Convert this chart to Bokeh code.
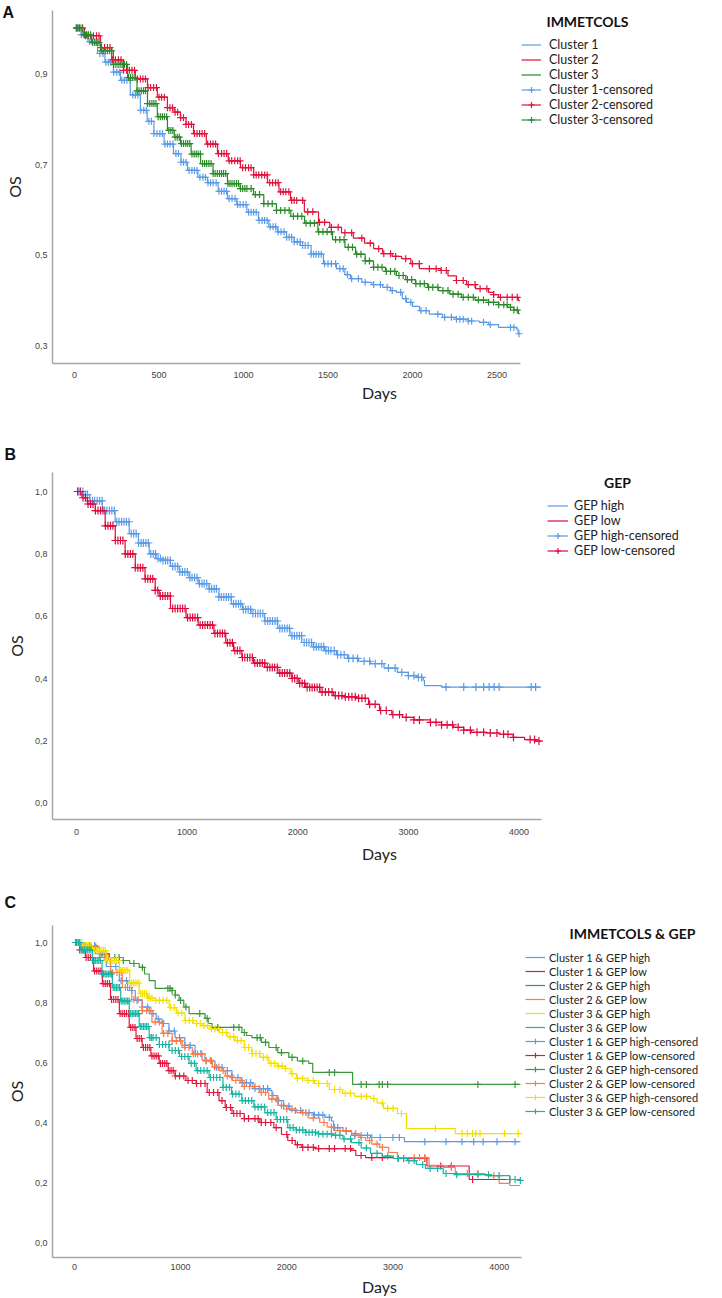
import numpy as np
from bokeh.plotting import figure
from bokeh.models import Legend, LegendItem, Label, FixedTicker, Title
from bokeh.layouts import column
from bokeh.embed import file_html
from bokeh.resources import INLINE

# ================= Panel A : IMMETCOLS =================
a_names = ["Cluster 1", "Cluster 2", "Cluster 3"]
a_colors = ["#5a9ae6", "#e0143c", "#2a8a2a"]
a_c1_t = [0, 40, 80, 136, 180, 230, 272, 330, 390, 430, 470, 530, 586, 630, 669, 730, 787, 850, 905, 960,
          1020, 1089, 1150, 1200, 1254, 1300, 1337, 1400, 1473, 1550, 1600, 1633, 1700, 1760, 1823, 1870,
          1905, 1940, 1964, 2000, 2041, 2100, 2178, 2260, 2330, 2396, 2450, 2509, 2615, 2625, 2635]
a_c1_s = [1.0, 0.985, 0.97, 0.944, 0.925, 0.903, 0.885, 0.853, 0.819, 0.795, 0.768, 0.745, 0.724, 0.705,
          0.687, 0.672, 0.66, 0.641, 0.625, 0.612, 0.595, 0.577, 0.563, 0.552, 0.54, 0.53, 0.522, 0.503,
          0.482, 0.471, 0.458, 0.449, 0.441, 0.436, 0.43, 0.423, 0.419, 0.405, 0.397, 0.388, 0.379, 0.371,
          0.364, 0.36, 0.356, 0.353, 0.348, 0.342, 0.338, 0.328, 0.328]
a_c2_t = [0, 60, 154, 220, 290, 360, 432, 490, 550, 590, 627, 660, 704, 780, 846, 910, 982, 1060, 1142,
          1210, 1278, 1360, 1444, 1510, 1580, 1650, 1716, 1770, 1823, 1880, 1935, 1990, 2041, 2166, 2210,
          2260, 2320, 2373, 2450, 2480, 2509, 2627, 2635]
a_c2_s = [1.0, 0.983, 0.957, 0.93, 0.907, 0.888, 0.869, 0.848, 0.825, 0.815, 0.803, 0.788, 0.768, 0.745,
          0.724, 0.708, 0.693, 0.677, 0.66, 0.64, 0.621, 0.596, 0.573, 0.562, 0.55, 0.538, 0.527, 0.515,
          0.504, 0.498, 0.493, 0.482, 0.471, 0.467, 0.455, 0.445, 0.436, 0.427, 0.419, 0.414, 0.408,
          0.401, 0.401]
a_c3_t = [0, 50, 100, 154, 230, 314, 370, 432, 490, 550, 590, 627, 690, 746, 820, 905, 980, 1059, 1120,
          1195, 1280, 1361, 1440, 1527, 1600, 1663, 1720, 1769, 1840, 1905, 1960, 2018, 2090, 2154, 2220,
          2290, 2370, 2450, 2510, 2562, 2600, 2627, 2635]
a_c3_s = [1.0, 0.985, 0.968, 0.95, 0.92, 0.891, 0.862, 0.834, 0.805, 0.775, 0.76, 0.746, 0.723, 0.702,
          0.68, 0.658, 0.647, 0.634, 0.614, 0.599, 0.586, 0.571, 0.552, 0.535, 0.518, 0.503, 0.488, 0.474,
          0.465, 0.456, 0.447, 0.438, 0.43, 0.423, 0.415, 0.408, 0.402, 0.397, 0.392, 0.386, 0.38, 0.372,
          0.372]
a_c1_cens = [12, 25, 40, 55, 72, 90, 105, 120, 135, 150, 168, 185, 200, 215, 232, 250, 265, 280, 295, 310,
             328, 345, 360, 375, 392, 410, 425, 440, 455, 470, 488, 505, 520, 535, 550, 565, 582, 600,
             615, 630, 645, 660, 678, 695, 710, 725, 742, 760, 775, 790, 805, 820, 838, 855, 870, 885,
             900, 915, 932, 950, 965, 980, 998, 1015, 1030, 1045, 1060, 1075, 1092, 1110, 1125, 1140,
             1158, 1175, 1190, 1205, 1222, 1240, 1255, 1270, 1285, 1300, 1318, 1335, 1350, 1365, 1382,
             1400, 1415, 1430, 1445, 1460, 1480, 1500, 1520, 1545, 1570, 1590, 1615, 1640, 1680, 1720,
             1770, 1810, 1850, 1880, 1930, 1960, 1990, 2050, 2080, 2150, 2190, 2230, 2260, 2280, 2300,
             2330, 2350, 2420, 2460, 2580, 2600, 2630]
a_c2_cens = [15, 30, 48, 65, 80, 95, 112, 130, 145, 160, 178, 195, 210, 225, 242, 260, 275, 290, 308, 325,
             340, 355, 372, 390, 405, 420, 435, 450, 468, 485, 500, 515, 532, 550, 565, 580, 595, 610,
             628, 645, 660, 675, 692, 710, 725, 740, 755, 770, 788, 805, 820, 835, 852, 870, 885, 900,
             915, 930, 948, 965, 980, 995, 1012, 1030, 1045, 1060, 1075, 1090, 1108, 1125, 1140, 1155,
             1172, 1190, 1205, 1220, 1235, 1250, 1268, 1285, 1300, 1315, 1350, 1380, 1410, 1450, 1480,
             1520, 1560, 1600, 1640, 1700, 1750, 1800, 1830, 1870, 1900, 1960, 2000, 2040, 2100, 2140,
             2170, 2200, 2260, 2300, 2330, 2370, 2400, 2440, 2480, 2520, 2560, 2590, 2620]
a_c3_cens = [10, 20, 32, 45, 58, 70, 82, 95, 108, 120, 132, 145, 158, 170, 182, 195, 208, 220, 232, 245,
             258, 270, 282, 295, 308, 320, 332, 345, 358, 370, 382, 395, 408, 420, 432, 445, 458, 470,
             482, 495, 508, 520, 532, 545, 558, 570, 582, 595, 608, 620, 632, 645, 658, 670, 682, 695,
             708, 720, 732, 745, 758, 770, 782, 795, 808, 820, 832, 845, 858, 870, 882, 895, 908, 920,
             932, 945, 958, 970, 982, 995, 1008, 1020, 1045, 1070, 1095, 1120, 1145, 1170, 1195, 1220,
             1245, 1270, 1295, 1320, 1345, 1370, 1395, 1420, 1445, 1470, 1495, 1520, 1545, 1570, 1595,
             1620, 1645, 1670, 1695, 1720, 1745, 1770, 1795, 1820, 1845, 1870, 1895, 1920, 1945, 1970,
             1995, 2020, 2045, 2070, 2095, 2120, 2150, 2180, 2210, 2240, 2270, 2300, 2330, 2360, 2390,
             2420, 2450, 2480, 2510, 2540, 2560, 2580, 2600, 2620]
a_xticks = [0, 500, 1000, 1500, 2000, 2500]
a_yticks = [0.3, 0.5, 0.7, 0.9]
a_ylabels = ["0,3", "0,5", "0,7", "0,9"]

# ================= Panel B : GEP =================
b_names = ["GEP high", "GEP low"]
b_colors = ["#5a9ae6", "#dc0a3c"]
b_hi_t = [0, 60, 120, 234, 350, 477, 560, 658, 720, 775, 850, 930, 1018, 1100, 1200, 1288, 1400, 1500,
          1577, 1700, 1820, 1930, 2036, 2140, 2243, 2350, 2450, 2550, 2658, 2780, 2900, 3000, 3072, 3135,
          3145, 3300, 4200]
b_hi_s = [1.0, 0.99, 0.97, 0.939, 0.903, 0.865, 0.835, 0.80, 0.785, 0.779, 0.76, 0.742, 0.724, 0.705,
          0.688, 0.662, 0.64, 0.622, 0.609, 0.585, 0.561, 0.538, 0.516, 0.502, 0.49, 0.477, 0.465, 0.456,
          0.448, 0.434, 0.42, 0.41, 0.404, 0.395, 0.378, 0.373, 0.373]
b_lo_t = [0, 50, 100, 171, 260, 351, 440, 532, 620, 712, 748, 850, 991, 1100, 1243, 1350, 1420, 1495,
          1600, 1703, 1820, 1946, 2010, 2072, 2200, 2324, 2420, 2532, 2640, 2739, 2850, 2946, 3050, 3198,
          3300, 3405, 3500, 3568, 3700, 3820, 3946, 4050, 4150, 4200]
b_lo_s = [1.0, 0.98, 0.96, 0.939, 0.89, 0.843, 0.80, 0.756, 0.72, 0.683, 0.665, 0.625, 0.596, 0.572,
          0.545, 0.515, 0.49, 0.468, 0.45, 0.436, 0.418, 0.401, 0.385, 0.372, 0.357, 0.346, 0.342, 0.337,
          0.318, 0.298, 0.285, 0.276, 0.268, 0.26, 0.252, 0.244, 0.235, 0.228, 0.226, 0.222, 0.212, 0.205,
          0.2, 0.2]
b_hi_cens = [15, 35, 58, 80, 100, 122, 145, 165, 188, 210, 232, 255, 275, 298, 320, 342, 365, 385, 408,
             430, 452, 475, 495, 518, 540, 562, 585, 605, 628, 650, 672, 695, 715, 738, 760, 782, 805,
             825, 848, 870, 892, 915, 935, 958, 980, 1002, 1025, 1045, 1068, 1090, 1112, 1135, 1155,
             1178, 1200, 1222, 1245, 1265, 1288, 1310, 1332, 1355, 1375, 1398, 1420, 1442, 1465, 1485,
             1508, 1530, 1552, 1575, 1595, 1618, 1640, 1662, 1685, 1705, 1728, 1750, 1772, 1795, 1815,
             1838, 1860, 1882, 1905, 1925, 1948, 1970, 1992, 2015, 2035, 2058, 2080, 2102, 2125, 2145,
             2168, 2190, 2212, 2235, 2255, 2278, 2300, 2330, 2360, 2390, 2420, 2460, 2500, 2540, 2600,
             2650, 2700, 2760, 2820, 2880, 2940, 3000, 3050, 3090, 3120, 3340, 3500, 3610, 3680, 3730,
             3775, 3820, 4110, 4150]
b_lo_cens = [12, 35, 60, 82, 105, 128, 150, 172, 195, 218, 240, 262, 285, 308, 330, 352, 375, 398, 420,
             442, 465, 488, 510, 532, 555, 578, 600, 622, 645, 668, 690, 712, 735, 758, 780, 802, 825,
             848, 870, 892, 915, 938, 960, 982, 1005, 1028, 1050, 1072, 1095, 1118, 1140, 1162, 1185,
             1208, 1230, 1252, 1275, 1298, 1320, 1342, 1365, 1388, 1410, 1432, 1455, 1478, 1500, 1522,
             1545, 1568, 1590, 1612, 1635, 1658, 1680, 1702, 1725, 1748, 1770, 1792, 1815, 1838, 1860,
             1882, 1905, 1928, 1950, 1972, 1995, 2018, 2040, 2062, 2085, 2108, 2130, 2152, 2175, 2198,
             2220, 2250, 2280, 2310, 2340, 2370, 2400, 2430, 2460, 2490, 2520, 2550, 2580, 2610, 2650,
             2700, 2750, 2800, 2860, 2920, 2980, 3050, 3100, 3200, 3250, 3300, 3350, 3400, 3450, 3500,
             3560, 3620, 3680, 3740, 3800, 3860, 3900, 3950, 4100, 4140, 4180]
b_xticks = [0, 1000, 2000, 3000, 4000]
bc_yticks = [0.0, 0.2, 0.4, 0.6, 0.8, 1.0]
bc_ylabels = ["0,0", "0,2", "0,4", "0,6", "0,8", "1,0"]

# ================= Panel C : IMMETCOLS & GEP =================
c_names = ["Cluster 1 & GEP high", "Cluster 1 & GEP low", "Cluster 2 & GEP high",
           "Cluster 2 & GEP low", "Cluster 3 & GEP high", "Cluster 3 & GEP low"]
c_colors = ["#5b9be8", "#e3173e", "#3c983c", "#fb7c4a", "#f2df00", "#17b5a3"]
c_1h_t = [0, 80, 197, 300, 423, 500, 573, 640, 704, 770, 826, 890, 948, 1040, 1136, 1230, 1324, 1399,
          1484, 1577, 1681, 1831, 1860, 1915, 1970, 2028, 2141, 2250, 2357, 2420, 2441, 2530, 2610, 2789,
          3108, 4200]
c_1h_s = [1.0, 0.99, 0.963, 0.92, 0.873, 0.84, 0.807, 0.785, 0.763, 0.745, 0.73, 0.705, 0.683, 0.657,
          0.63, 0.605, 0.583, 0.573, 0.55, 0.533, 0.513, 0.507, 0.49, 0.473, 0.455, 0.44, 0.433, 0.425,
          0.417, 0.405, 0.383, 0.37, 0.357, 0.35, 0.336, 0.336]
c_1l_t = [0, 50, 103, 180, 263, 340, 423, 516, 580, 638, 720, 798, 883, 948, 1050, 1146, 1250, 1362,
          1420, 1484, 1600, 1746, 1878, 1950, 2009, 2080, 2141, 2263, 2610, 2650, 2742, 3005, 3320, 3718,
          4200]
c_1l_s = [1.0, 0.975, 0.95, 0.905, 0.863, 0.81, 0.763, 0.717, 0.68, 0.65, 0.622, 0.597, 0.573, 0.555,
          0.54, 0.53, 0.50, 0.473, 0.45, 0.43, 0.413, 0.40, 0.383, 0.36, 0.34, 0.326, 0.317, 0.313, 0.307,
          0.29, 0.283, 0.28, 0.255, 0.21, 0.21]
c_2h_t = [0, 100, 235, 330, 423, 520, 610, 660, 704, 760, 920, 950, 986, 1030, 1080, 1230, 1260, 1296,
          1577, 1620, 1671, 1760, 1831, 1915, 2019, 2100, 2207, 2244, 2620, 4200]
c_2h_s = [1.0, 0.985, 0.963, 0.95, 0.94, 0.93, 0.917, 0.895, 0.873, 0.847, 0.84, 0.825, 0.807, 0.785,
          0.763, 0.747, 0.73, 0.717, 0.70, 0.69, 0.683, 0.667, 0.65, 0.633, 0.617, 0.605, 0.597, 0.567,
          0.527, 0.527]
c_2l_t = [0, 80, 235, 340, 451, 540, 638, 730, 826, 920, 1014, 1110, 1202, 1300, 1362, 1420, 1484, 1600,
          1746, 1830, 1915, 2000, 2094, 2200, 2310, 2380, 2441, 2610, 2680, 2742, 2800, 2873, 2960, 3042,
          3340, 3474, 3587, 3869, 4000, 4100, 4200]
c_2l_s = [1.0, 0.985, 0.95, 0.90, 0.85, 0.81, 0.773, 0.735, 0.697, 0.672, 0.65, 0.628, 0.607, 0.585,
          0.573, 0.555, 0.54, 0.52, 0.50, 0.478, 0.457, 0.445, 0.433, 0.415, 0.40, 0.385, 0.373, 0.363,
          0.35, 0.34, 0.328, 0.317, 0.30, 0.283, 0.257, 0.25, 0.23, 0.223, 0.197, 0.19, 0.19]
c_3h_t = [0, 80, 169, 300, 423, 520, 610, 690, 760, 892, 960, 1042, 1120, 1202, 1280, 1362, 1440, 1512,
          1600, 1671, 1746, 1831, 1910, 1981, 2040, 2094, 2180, 2263, 2400, 2526, 2640, 2789, 2850, 2911,
          3042, 3127, 3587, 4200]
c_3h_s = [1.0, 0.99, 0.973, 0.94, 0.907, 0.865, 0.83, 0.815, 0.807, 0.783, 0.765, 0.74, 0.73, 0.723,
          0.712, 0.70, 0.686, 0.673, 0.65, 0.63, 0.617, 0.597, 0.588, 0.58, 0.563, 0.547, 0.54, 0.53,
          0.51, 0.497, 0.487, 0.48, 0.465, 0.447, 0.43, 0.38, 0.363, 0.363]
c_3l_t = [0, 60, 169, 260, 357, 436, 516, 610, 704, 800, 892, 990, 1080, 1146, 1268, 1399, 1480, 1577,
          1690, 1793, 1900, 2009, 2090, 2178, 2300, 2441, 2530, 2610, 2700, 2789, 2900, 3005, 3136, 3220,
          3305, 3474, 3600, 3906, 4100, 4180, 4200]
c_3l_s = [1.0, 0.975, 0.94, 0.895, 0.85, 0.805, 0.763, 0.72, 0.683, 0.66, 0.64, 0.62, 0.597, 0.573,
          0.55, 0.517, 0.495, 0.473, 0.452, 0.433, 0.41, 0.383, 0.375, 0.367, 0.362, 0.357, 0.345, 0.333,
          0.315, 0.297, 0.288, 0.28, 0.273, 0.26, 0.247, 0.23, 0.226, 0.223, 0.21, 0.207, 0.207]
c_1h_cens = [40, 90, 140, 190, 240, 290, 340, 390, 440, 490, 540, 590, 640, 690, 740, 790, 840, 890, 940,
             990, 1040, 1090, 1140, 1190, 1240, 1290, 1340, 1390, 1440, 1490, 1540, 1580, 1620, 1660,
             1700, 1740, 1780, 1820, 1870, 1920, 1970, 2020, 2080, 2130, 2180, 2210, 2260, 2300, 2340,
             2400, 2450, 2480, 2560, 2640, 2700, 2760, 2800, 2880, 3000, 3060, 3300, 3500, 3650, 3760,
             3850, 3980, 4150]
c_1l_cens = [15, 30, 50, 70, 90, 110, 130, 150, 170, 190, 210, 230, 250, 270, 290, 310, 330, 350, 370,
             390, 410, 430, 450, 470, 490, 510, 530, 550, 570, 590, 610, 630, 650, 670, 690, 710, 730,
             750, 770, 790, 810, 830, 850, 870, 890, 910, 930, 950, 990, 1030, 1070, 1110, 1150, 1190,
             1230, 1270, 1310, 1350, 1390, 1430, 1470, 1500, 1530, 1560, 1600, 1640, 1700, 1730, 1760,
             1800, 1850, 1900, 2000, 2050, 2100, 2150, 2200, 2250, 2300, 2400, 2450, 2550, 2600, 2700,
             2800, 2900, 3050, 3100, 3300, 3450, 3550, 3750, 4100]
c_2h_cens = [150, 200, 260, 300, 380, 420, 460, 560, 640, 880, 900, 920, 950, 1000, 1050, 1180, 1250,
             1350, 1500, 1550, 1600, 1720, 1750, 1800, 1900, 1950, 2050, 2150, 2400, 2450, 2700, 2750,
             2870, 2900, 2950, 3800, 4150]
c_2l_cens = [40, 80, 120, 160, 200, 240, 280, 320, 360, 400, 440, 480, 520, 560, 600, 640, 680, 720, 760,
             800, 840, 880, 920, 960, 1000, 1040, 1080, 1120, 1160, 1200, 1240, 1280, 1320, 1360, 1400,
             1440, 1480, 1520, 1560, 1600, 1650, 1700, 1760, 1800, 1860, 1900, 1950, 2000, 2050, 2150,
             2250, 2350, 2420, 2500, 2560, 2650, 2700, 2780, 2850, 2900, 3200, 3250, 3300, 3550, 3700,
             3800, 3950]
c_3h_cens = [15, 30, 48, 65, 82, 100, 118, 135, 152, 170, 188, 205, 222, 240, 258, 275, 292, 310, 328,
             345, 362, 380, 398, 415, 432, 450, 468, 485, 502, 520, 538, 555, 572, 590, 608, 625, 642,
             660, 678, 695, 712, 730, 765, 800, 835, 870, 905, 940, 975, 1010, 1045, 1080, 1115, 1150,
             1185, 1220, 1255, 1290, 1325, 1360, 1395, 1430, 1465, 1500, 1535, 1570, 1605, 1640, 1675,
             1710, 1745, 1780, 1815, 1850, 1885, 1920, 1955, 1990, 2050, 2100, 2150, 2200, 2250, 2300,
             2380, 2450, 2500, 2550, 2600, 2700, 2750, 2820, 2900, 2950, 3000, 3080, 3400, 3650, 3700,
             3750, 3780, 3820, 4050, 4180]
c_3l_cens = [10, 20, 35, 50, 65, 80, 95, 110, 125, 140, 155, 170, 185, 200, 215, 230, 245, 260, 275, 290,
             305, 320, 335, 350, 365, 380, 395, 410, 425, 440, 455, 470, 485, 500, 515, 530, 545, 560,
             575, 590, 605, 620, 635, 650, 665, 680, 695, 710, 725, 740, 770, 800, 830, 860, 890, 920,
             950, 980, 1010, 1040, 1070, 1100, 1130, 1160, 1190, 1220, 1250, 1280, 1310, 1340, 1370,
             1400, 1430, 1460, 1490, 1520, 1550, 1580, 1610, 1640, 1670, 1700, 1730, 1760, 1790, 1820,
             1850, 1880, 1910, 1940, 1970, 2000, 2030, 2060, 2090, 2120, 2150, 2180, 2210, 2240, 2270,
             2300, 2340, 2380, 2420, 2460, 2500, 2540, 2600, 2680, 2750, 2850, 2950, 3050, 3100, 3150,
             3200, 3280, 3350, 3420, 3500, 3600, 3800, 3900, 4000, 4100, 4150, 4200]
c_xticks = [0, 1000, 2000, 3000, 4000]

W = 706
AX_COL = "#a6a6a6"


def make_fig(h, left, top, bottom, x0, px_per_day, x_end, yr, xticks, yticks, ylabels,
             tick_standoff, xlab_standoff, ylab_standoff):
    # frame spans from `left` to the right edge; the x axis line is bounded to the data region
    frame_w = W - left
    xr = (x0, x0 + frame_w / px_per_day)
    p = figure(width=W, height=h, x_range=xr, y_range=yr, output_backend="svg",
               toolbar_location=None, min_border_left=left, min_border_top=top,
               min_border_right=0, min_border_bottom=bottom,
               x_axis_label="Days", y_axis_label="OS")
    p.outline_line_color = None
    p.grid.visible = False
    for ax in (p.xaxis[0], p.yaxis[0]):
        ax.axis_line_color = AX_COL
        ax.axis_line_width = 1.5
        ax.major_tick_line_color = None
        ax.minor_tick_line_color = None
        ax.major_tick_out = 0
        ax.major_tick_in = 0
        ax.minor_tick_out = 0
        ax.minor_tick_in = 0
        ax.major_label_text_font = "Liberation Sans"
        ax.major_label_text_font_size = "9px"
        ax.major_label_text_color = "#444444"
        ax.axis_label_text_font = "Lato"
        ax.axis_label_text_font_size = "16px"
        ax.axis_label_text_font_style = "normal"
        ax.axis_label_text_color = "#222222"
    p.xaxis.bounds = (x0, x_end)
    p.xaxis.ticker = FixedTicker(ticks=xticks)
    p.yaxis.ticker = FixedTicker(ticks=yticks)
    p.yaxis.major_label_overrides = {v: s for v, s in zip(yticks, ylabels)}
    p.xaxis.major_label_standoff = tick_standoff
    p.yaxis.major_label_standoff = 5
    p.xaxis.axis_label_standoff = xlab_standoff
    p.yaxis.axis_label_standoff = ylab_standoff
    return p


def surv_at(t, s, c):
    idx = np.searchsorted(np.asarray(t), np.asarray(c), side="right") - 1
    return list(np.asarray(s)[idx])


def add_km(p, curves, colors, names, lw=1.2, msize=7):
    cur_items, cen_items = [], []
    for (t, s, cens), col, nm in zip(curves, colors, names):
        r = p.step(t, s, mode="after", line_color=col, line_width=lw)
        rc = p.scatter(cens, surv_at(t, s, cens), marker="cross", size=msize,
                       line_color=col, line_width=1.2)
        cur_items.append(LegendItem(label=nm, renderers=[r]))
        cen_items.append(LegendItem(label=nm + "-censored", renderers=[r, rc]))
    return cur_items + cen_items


def add_legend(p, items, x_loc, y_loc, gw, standoff, row_h, font_size):
    leg = Legend(items=items, location=(x_loc, y_loc), margin=0, padding=0, spacing=0,
                 glyph_width=gw, glyph_height=row_h, label_height=row_h,
                 label_standoff=standoff, label_text_font="Lato",
                 label_text_font_size=font_size, label_text_color="#222222",
                 label_text_line_height=1.0,
                 border_line_color=None, background_fill_alpha=0)
    p.add_layout(leg)


def add_text(p, x, y, text, size):
    p.add_layout(Label(x=x, y=y, x_units="screen", y_units="screen", text=text,
                       text_font="Lato", text_font_size=size, text_font_style="bold",
                       text_color="#111111", text_align="center", text_baseline="middle"))


def add_letter(p, letter, offset, standoff):
    p.add_layout(Title(text=letter, align="left", offset=offset, standoff=standoff,
                       text_font="Liberation Sans", text_font_size="16px",
                       text_font_style="bold", text_color="#111111"), "above")


# ---------- Figure A (page y 0..405); frame page y 10..363, x from 52 ----------
pA = make_fig(405, 52, 10, 42, -130.2, 0.169, 2639, (0.2626, 1.0385), a_xticks, a_yticks, a_ylabels,
              8, 2, 8)
itemsA = add_km(pA, [(a_c1_t, a_c1_s, a_c1_cens), (a_c2_t, a_c2_s, a_c2_cens),
                     (a_c3_t, a_c3_s, a_c3_cens)], a_colors, a_names)
add_legend(pA, itemsA, 469, 353 - 26.5 - 6 * 15, 20, 8, 15, "12.5px")
add_text(pA, 535, 342, "IMMETCOLS", "14px")
add_letter(pA, "A", -50, -20)

# ---------- Figure B (page y 405..865); frame page y 472..819, x from 50 ----------
pB = make_fig(460, 50, 67, 46, -216, 0.111, 4207, (-0.0513, 1.0609), b_xticks, bc_yticks, bc_ylabels,
              9, 6, 6)
itemsB = add_km(pB, [(b_hi_t, b_hi_s, b_hi_cens), (b_lo_t, b_lo_s, b_lo_cens)], b_colors, b_names,
                msize=8)
add_legend(pB, itemsB, 495, 347 - 25.5 - 4 * 15, 21, 6, 15, "12.5px")
add_text(pB, 565, 337, "GEP", "14px")
add_letter(pB, "B", -48, 20)

# ---------- Figure C (page y 865..1298); frame page y 925..1257, x from 50 ----------
pC = make_fig(433, 50, 60, 41, -206.6, 0.1065, 4207, (-0.05, 1.0567), c_xticks, bc_yticks, bc_ylabels,
              6, 4, 6)
itemsC = add_km(pC, [(c_1h_t, c_1h_s, c_1h_cens), (c_1l_t, c_1l_s, c_1l_cens),
                     (c_2h_t, c_2h_s, c_2h_cens), (c_2l_t, c_2l_s, c_2l_cens),
                     (c_3h_t, c_3h_s, c_3h_cens), (c_3l_t, c_3l_s, c_3l_cens)], c_colors, c_names)
add_legend(pC, itemsC, 473, 332 - 25 - 12 * 14, 20, 4, 14, "11px")
add_text(pC, 580, 324, "IMMETCOLS & GEP", "14px")
add_letter(pC, "C", -48, 30)

layout = column(pA, pB, pC, spacing=0)
open("out.html", "w").write(file_html(layout, INLINE))
